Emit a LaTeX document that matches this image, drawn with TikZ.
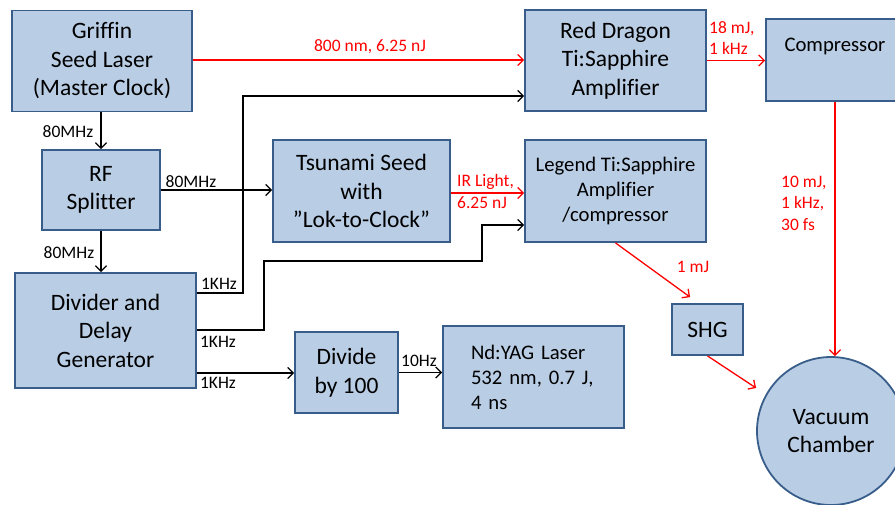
\documentclass[tikz,border=0pt]{standalone}
\usepackage{fontspec}
\setmainfont{Carlito}[Ligatures=NoCommon]
\usepackage{tikz}
\usetikzlibrary{calc,arrows.meta}
\definecolor{boxfill}{HTML}{B9CDE5}
\definecolor{boxline}{HTML}{385D8A}
\definecolor{beam}{HTML}{FF0000}
\newcommand{\bigfont}{\fontsize{23.5}{28.5}\selectfont}
\newcommand{\midfont}{\fontsize{20.7}{25}\selectfont}
\newcommand{\tagfont}{\fontsize{17.5}{21.5}\selectfont}

\begin{document}
\begin{tikzpicture}[x=1pt,y=-1pt,>={Straight Barb[length=5.5pt,width=11pt]}]
\tikzstyle{box}=[draw=boxline,fill=boxfill,line width=1.8pt,align=center,inner sep=2pt,font=\bigfont]
\tikzstyle{sig}=[draw=black,line width=1.3pt]
\tikzstyle{ray}=[draw=beam,line width=1.3pt]
\tikzstyle{tag}=[font=\tagfont,inner sep=0pt,align=left]
\useasboundingbox (0,0) rectangle (895,504);

\node[box,minimum width=180pt,minimum height=101pt] (griffin) at (102,61) {Griffin\\Seed Laser\\(Master Clock)};
\node[box,minimum width=118pt,minimum height=80pt] (splitter) at (101,190) {RF\\Splitter};
\node[box,minimum width=181pt,minimum height=115pt] (divider) at (105.5,330.5) {Divider and\\Delay\\Generator};
\node[box,minimum width=177pt,minimum height=102pt] (tsunami) at (361.5,191) {Tsunami Seed\\with\\”Lok-to-Clock”};
\node[box,minimum width=181pt,minimum height=101pt] (dragon) at (615.5,60.5) {Red Dragon\\Ti:Sapphire\\Amplifier};
\node[box,minimum width=138pt,minimum height=82pt,label={[font=\midfont,anchor=north,yshift=-16pt]north:Compressor}] (comp) at (835,60) {};
\node[box,font=\midfont,minimum width=181pt,minimum height=102pt] (legend) at (615.5,191) {Legend Ti:Sapphire\\Amplifier\\/compressor};
\node[box,minimum width=71pt,minimum height=51pt] (shg) at (707.5,329.5) {SHG};
\node[box,minimum width=103pt,minimum height=81pt] (divide) at (346.5,372.5) {Divide\\by 100};
\node[box,font=\midfont,align=left,text width=125pt,inner xsep=28pt,minimum height=102pt] (yag) at (533.5,377) {Nd:YAG Laser\\532 nm, 0.7 J,\\4 ns};
\node[box,circle,minimum size=148pt,inner sep=0pt] (vac) at (831,431) {Vacuum\\Chamber};

\draw[sig,->] (splitter.north |- griffin.south) -- (splitter.north);
\draw[sig,->] (splitter.south) -- (splitter.south |- divider.north);
\draw[sig,->] (splitter.east) -- (splitter.east -| tsunami.west);
\draw[sig,->] (divider.east |- 0,293) -- (243,293) |- (dragon.west |- 0,96);
\draw[sig,->] (divider.east |- 0,330) -- (264,330) |- (482,261) |- (legend.west |- 0,225);
\draw[sig,->] (divider.east |- 0,373) -- (divide.west |- 0,373);
\draw[sig,->] (divide.east) -- (divide.east -| yag.west);

\draw[ray,->] (griffin.east |- 0,60) -- (dragon.west |- 0,60);
\draw[ray,->] (dragon.east) -- (dragon.east -| comp.west);
\draw[ray,->] (tsunami.east |- 0,193) -- (legend.west |- 0,193);
\draw[ray,->] (comp.south) -- (comp.south |- vac.north);
\draw[ray,->] (legend.south) -- ($(shg.north west)+(19,-6)$);
\draw[ray,->] (shg.south) -- ($(vac.west)+(0,-43)$);

\node[tag] at (68,131.5) {80MHz};
\node[tag] at (69,253) {80MHz};
\node[tag] at (191,182) {80MHz};
\node[tag] at (219,284) {1KHz};
\node[tag] at (218,342) {1KHz};
\node[tag] at (218,383) {1KHz};
\node[tag] at (419,361) {10Hz};
\node[tag,text=beam] at (370,47) {800 nm, 6.25 nJ};
\node[tag,text=beam,anchor=west] at (457,191.5) {IR Light,\\6.25 nJ};
\node[tag,text=beam,anchor=west] at (709,38) {18 mJ,\\1 kHz};
\node[tag,text=beam,anchor=west] at (781,203) {10 mJ,\\1 kHz,\\30 fs};
\node[tag,text=beam] at (693,267) {1 mJ};
\end{tikzpicture}
\end{document}
